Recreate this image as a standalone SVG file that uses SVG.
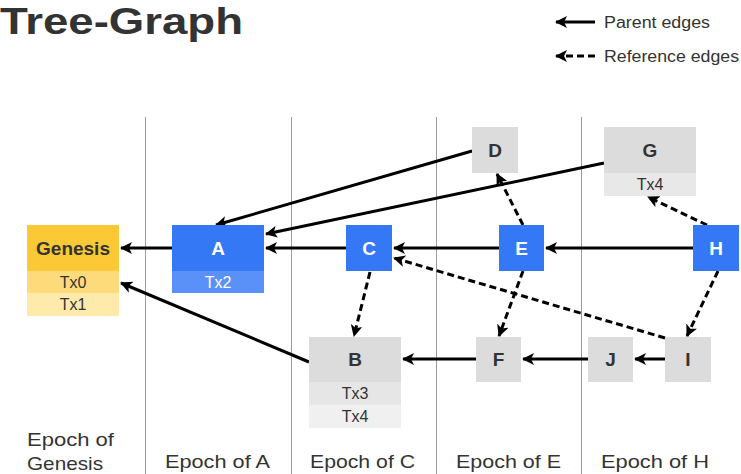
<svg xmlns="http://www.w3.org/2000/svg" width="741" height="474" viewBox="0 0 741 474">
<style>
text{font-family:"Liberation Sans","Open Sans",Arial,sans-serif;fill:#333}
.col{stroke:#9a9a9a;stroke-width:1}
.e{stroke:#000;stroke-width:3;fill:none}
.d{stroke:#000;stroke-width:3;fill:none;stroke-dasharray:7,4}
.lbl{font-size:19px;font-weight:bold;text-anchor:middle}
.w{fill:#fff}
.tx{font-size:16px;text-anchor:middle}
.ep{font-size:19px}
.lg{font-size:16px}
</style>
<defs>
<marker id="ah" markerUnits="userSpaceOnUse" markerWidth="12" markerHeight="12" viewBox="0 0 12 12" refX="11" refY="6" orient="auto">
<path d="M0,0 L12,6 L0,12 L3,6 z" fill="#000"/>
</marker>
</defs>
<text x="0" y="34" font-size="37" font-weight="bold" textLength="243" lengthAdjust="spacingAndGlyphs">Tree-Graph</text>
<g id="legend">
<line class="e" x1="595" y1="22" x2="556" y2="22" stroke-width="2.5" marker-end="url(#ah)"/>
<text class="lg" x="604" y="28" textLength="106" lengthAdjust="spacingAndGlyphs">Parent edges</text>
<line class="d" x1="595" y1="56" x2="556" y2="56" stroke-width="2.5" stroke-dasharray="5,3" marker-end="url(#ah)"/>
<text class="lg" x="604" y="62" textLength="135" lengthAdjust="spacingAndGlyphs">Reference edges</text>
</g>
<g id="columns">
<line class="col" x1="145.5" y1="117" x2="145.5" y2="474"/>
<line class="col" x1="291.5" y1="117" x2="291.5" y2="474"/>
<line class="col" x1="436.5" y1="117" x2="436.5" y2="474"/>
<line class="col" x1="581.5" y1="117" x2="581.5" y2="474"/>
</g>
<g id="epochs">
<text class="ep" x="27" y="446" textLength="87" lengthAdjust="spacingAndGlyphs">Epoch of</text>
<text class="ep" x="27" y="470" textLength="76" lengthAdjust="spacingAndGlyphs">Genesis</text>
<text class="ep" x="165" y="468" textLength="105" lengthAdjust="spacingAndGlyphs">Epoch of A</text>
<text class="ep" x="310" y="468" textLength="105" lengthAdjust="spacingAndGlyphs">Epoch of C</text>
<text class="ep" x="456" y="468" textLength="105" lengthAdjust="spacingAndGlyphs">Epoch of E</text>
<text class="ep" x="601" y="468" textLength="108" lengthAdjust="spacingAndGlyphs">Epoch of H</text>
</g>
<g id="connectors">
<line class="e" x1="172" y1="248" x2="121" y2="248" marker-end="url(#ah)"/>
<line class="e" x1="346" y1="248" x2="266" y2="248" marker-end="url(#ah)"/>
<line class="e" x1="499" y1="248" x2="394" y2="248" marker-end="url(#ah)"/>
<line class="e" x1="693" y1="248" x2="546" y2="248" marker-end="url(#ah)"/>
<line class="e" x1="472" y1="151" x2="216" y2="225" marker-end="url(#ah)"/>
<line class="e" x1="604" y1="163" x2="266" y2="234" marker-end="url(#ah)"/>
<line class="e" x1="309" y1="362" x2="121" y2="283" marker-end="url(#ah)"/>
<line class="e" x1="476" y1="359" x2="403" y2="359" marker-end="url(#ah)"/>
<line class="e" x1="588" y1="359" x2="523" y2="359" marker-end="url(#ah)"/>
<line class="e" x1="665" y1="359" x2="635" y2="359" marker-end="url(#ah)"/>
<line class="d" x1="370" y1="272" x2="354" y2="336" marker-end="url(#ah)"/>
<line class="d" x1="523" y1="225" x2="497" y2="174" marker-end="url(#ah)"/>
<line class="d" x1="523" y1="271" x2="499" y2="336" marker-end="url(#ah)"/>
<line class="d" x1="707" y1="225" x2="648" y2="197" marker-end="url(#ah)"/>
<line class="d" x1="718" y1="271" x2="687" y2="336" marker-end="url(#ah)"/>
<line class="d" x1="665" y1="338" x2="394" y2="258" marker-end="url(#ah)"/>
</g>
<g id="genesis">
<rect x="27" y="225" width="92" height="46" fill="#fbc935"/>
<rect x="27" y="271" width="92" height="22" fill="#fddb7a"/>
<rect x="27" y="293" width="92" height="23" fill="#feeaaa"/>
<text class="lbl" x="73" y="255">Genesis</text>
<text class="tx" x="73" y="288">Tx0</text>
<text class="tx" x="73" y="310">Tx1</text>
</g>
<g id="A">
<rect x="172" y="225" width="92" height="46" fill="#3578f6"/>
<rect x="172" y="271" width="92" height="22" fill="#5a91f8"/>
<text class="lbl w" x="218" y="255">A</text>
<text class="tx w" x="218" y="288">Tx2</text>
</g>
<g id="C">
<rect x="346" y="225" width="46" height="46" fill="#3578f6"/>
<text class="lbl w" x="369" y="255">C</text>
</g>
<g id="E">
<rect x="499" y="225" width="45" height="46" fill="#3578f6"/>
<text class="lbl w" x="521.5" y="255">E</text>
</g>
<g id="H">
<rect x="693" y="225" width="46" height="46" fill="#3578f6"/>
<text class="lbl w" x="716" y="255">H</text>
</g>
<g id="D">
<rect x="472" y="127" width="46" height="46" fill="#dcdcdc"/>
<text class="lbl" x="495" y="157">D</text>
</g>
<g id="G">
<rect x="604" y="127" width="92" height="46" fill="#dcdcdc"/>
<rect x="604" y="173" width="92" height="23" fill="#e8e8e8"/>
<text class="lbl" x="650" y="157">G</text>
<text class="tx" x="650" y="190">Tx4</text>
</g>
<g id="B">
<rect x="309" y="337" width="92" height="45" fill="#dcdcdc"/>
<rect x="309" y="382" width="92" height="23" fill="#e6e6e6"/>
<rect x="309" y="405" width="92" height="23" fill="#f0f0f0"/>
<text class="lbl" x="355" y="366">B</text>
<text class="tx" x="355" y="399">Tx3</text>
<text class="tx" x="355" y="422">Tx4</text>
</g>
<g id="F">
<rect x="476" y="337" width="45" height="45" fill="#dcdcdc"/>
<text class="lbl" x="498.5" y="366">F</text>
</g>
<g id="J">
<rect x="588" y="337" width="45" height="45" fill="#dcdcdc"/>
<text class="lbl" x="610.5" y="366">J</text>
</g>
<g id="I">
<rect x="665" y="337" width="46" height="45" fill="#dcdcdc"/>
<text class="lbl" x="688" y="366">I</text>
</g>
</svg>
